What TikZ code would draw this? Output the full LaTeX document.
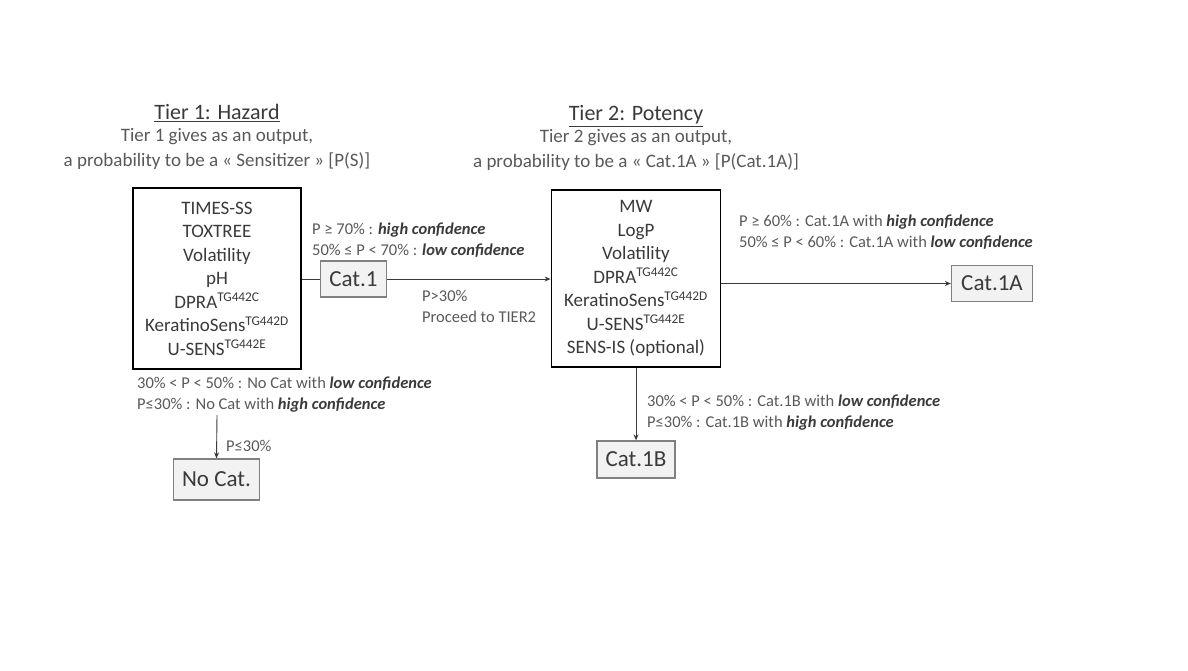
\documentclass[tikz,border=0pt]{standalone}
\usepackage{fontspec}
\setmainfont{Carlito}
\usetikzlibrary{arrows.meta}
\definecolor{txt}{HTML}{3A3A3A}
\definecolor{sub}{HTML}{595959}
\definecolor{catfill}{HTML}{F2F2F2}
\definecolor{catdraw}{HTML}{808080}
\newcommand\hc[1]{\textcolor{txt}{\textbf{\textit{#1}}}}
\begin{document}
\begin{tikzpicture}[x=1pt,y=-1pt,
 mainbox/.style={draw=black,line width=1.8pt,align=center,text=txt,font=\fontsize{19}{23.5}\selectfont,inner sep=0pt},
 catbox/.style={draw=catdraw,fill=catfill,line width=1.3pt,text=txt,font=\fontsize{23}{26}\selectfont,inner sep=0pt},
 note/.style={anchor=west,align=left,text=sub,font=\fontsize{16.5}{21}\selectfont,inner sep=0pt},
 ttl/.style={text=txt,font=\fontsize{22}{26}\selectfont,inner sep=0pt},
 subt/.style={text=sub,align=center,font=\fontsize{19}{24.5}\selectfont,inner sep=0pt},
 conn/.style={draw=txt,line width=0.9pt},
 arr/.style={conn,-{Stealth[length=6pt,width=5pt]}}]
\useasboundingbox (0,0) rectangle (1188,670);

% Tier 1
\node[ttl] (t1title) at (217,113) {\underline{Tier 1: Hazard}};
\node[subt] (t1sub) at (217,149) {Tier 1 gives as an output,\\a probability to be a « Sensitizer » [P(S)]};
\node[mainbox,minimum width=168pt,minimum height=181pt] (t1) at (217,278.5)
 {TIMES-SS\\TOXTREE\\Volatility\\pH\\DPRA\textsuperscript{TG442C}\\KeratinoSens\textsuperscript{TG442D}\\U-SENS\textsuperscript{TG442E}};
\node[catbox,minimum width=66pt,minimum height=36pt] (c1) at (353.5,279) {Cat.1};
\node[note] (n1) at (312,240.5) {P ≥ 70\% : \hc{high confidence}\\50\% ≤ P < 70\% : \hc{low confidence}};
\node[note] (n2) at (422,306.5) {P>30\%\\Proceed to TIER2};
\node[note] (n3) at (137,394.5) {30\% < P < 50\% : No Cat with \hc{low confidence}\\P≤30\% : No Cat with \hc{high confidence}};
\node[note] (n4) at (226,446) {P≤30\%};
\node[catbox,minimum width=86pt,minimum height=41pt] (nc) at (216.5,479.5) {No Cat.};
\coordinate (ncstart) at (217,415);

% Tier 2
\node[ttl] (t2title) at (636,116) {\underline{Tier 2: Potency}};
\node[subt] (t2sub) at (636,150) {Tier 2 gives as an output,\\a probability to be a « Cat.1A » [P(Cat.1A)]};
\node[mainbox,minimum width=169pt,minimum height=177pt] (t2) at (636,278.5)
 {MW\\LogP\\Volatility\\DPRA\textsuperscript{TG442C}\\KeratinoSens\textsuperscript{TG442D}\\U-SENS\textsuperscript{TG442E}\\SENS-IS (optional)};
\node[note] (n5) at (739,232.5) {P ≥ 60\% : Cat.1A with \hc{high confidence}\\50\% ≤ P < 60\% : Cat.1A with \hc{low confidence}};
\node[catbox,minimum width=81pt,minimum height=36pt] (c1a) at (992,283.5) {Cat.1A};
\node[note] (n6) at (647,412.5) {30\% < P < 50\% : Cat.1B with \hc{low confidence}\\P≤30\% : Cat.1B with \hc{high confidence}};
\node[catbox,minimum width=78pt,minimum height=37pt] (c1b) at (636,459.5) {Cat.1B};

% connectors
\draw[conn] (c1.west -| t1.east) -- (c1.west);
\draw[arr] (c1.east) -- (c1.east -| t2.west);
\draw[arr] (c1a.west -| t2.east) -- (c1a.west);
\draw[arr] (c1b.north |- t2.south) -- (c1b.north);
\draw[arr] (ncstart) -- (nc.north);
\end{tikzpicture}
\end{document}
